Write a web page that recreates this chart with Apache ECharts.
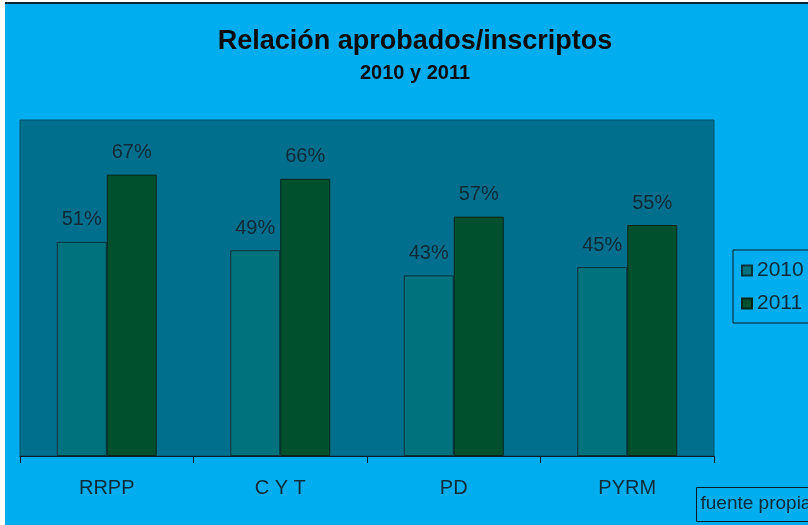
<!DOCTYPE html>
<html>
<head>
<meta charset="utf-8">
<script src="https://cdn.jsdelivr.net/npm/echarts@6/dist/echarts.min.js"></script>
<style>
html,body{margin:0;padding:0;background:#ffffff;}
#c{width:808px;height:525px;}
</style>
</head>
<body>
<div id="c"></div>
<script>
const categories = ['RRPP', 'C Y T', 'PD', 'PYRM'];
const seriesNames = ['2010', '2011'];
const values2010 = [0.51, 0.49, 0.43, 0.45];
const values2011 = [0.67, 0.66, 0.57, 0.55];
const titleText = 'Relación aprobados/inscriptos';
const subtitleText = '2010 y 2011';
const sourceText = 'fuente propia';

const chart = echarts.init(document.getElementById('c'), null, {renderer: 'canvas'});
const labelColor = '#0d2a36';
const pctFmt = p => Math.round(p.value * 100) + '%';

chart.setOption({
  backgroundColor: '#00AEEF',
  animation: false,
  title: {
    text: titleText,
    subtext: subtitleText,
    left: 410,
    textAlign: 'center',
    top: 23,
    itemGap: 8,
    textStyle: {fontFamily: 'Liberation Sans', fontWeight: 'bold', fontSize: 27, color: '#0a0a0a'},
    subtextStyle: {fontFamily: 'Liberation Sans', fontWeight: 'bold', fontSize: 20, color: '#0a0a0a'}
  },
  legend: {
    orient: 'vertical',
    left: 733,
    top: 250,
    data: seriesNames,
    icon: 'rect',
    itemWidth: 10,
    itemHeight: 10,
    itemGap: 12,
    padding: [10, 30, 9, 8],
    borderColor: '#0a1a20',
    borderWidth: 1,
    textStyle: {fontFamily: 'Liberation Sans', fontSize: 21, color: '#0d2a36'}
  },
  grid: {
    left: 20, right: 94, top: 120, bottom: 69,
    show: true,
    backgroundColor: '#006F8E',
    borderColor: '#00506A',
    borderWidth: 1
  },
  xAxis: {
    type: 'category',
    data: categories,
    axisLine: {lineStyle: {color: '#0a1a20', width: 1}},
    axisTick: {show: true, length: 7, lineStyle: {color: '#0a1a20'}},
    axisLabel: {fontFamily: 'Liberation Sans', fontSize: 20, color: '#0d2a36', margin: 22}
  },
  yAxis: {
    type: 'value',
    min: 0,
    max: 0.8,
    show: false,
    splitLine: {show: false}
  },
  series: [
    {
      name: seriesNames[0],
      type: 'bar',
      data: values2010,
      barWidth: 50,
      barGap: '0%',
      itemStyle: {color: '#00727E', borderColor: '#06323a', borderWidth: 1},
      label: {show: true, position: 'top', distance: 12, formatter: pctFmt,
        fontFamily: 'Liberation Sans', fontSize: 20, color: labelColor}
    },
    {
      name: seriesNames[1],
      type: 'bar',
      data: values2011,
      barWidth: 50,
      barGap: '0%',
      itemStyle: {color: '#00502E', borderColor: '#06261a', borderWidth: 1},
      label: {show: true, position: 'top', distance: 12, formatter: pctFmt,
        fontFamily: 'Liberation Sans', fontSize: 20, color: labelColor}
    }
  ],
  graphic: [
    {type: 'rect', left: 0, top: 0, shape: {width: 5, height: 525}, style: {fill: '#ffffff'}, silent: true},
    {type: 'rect', left: 0, top: 0, shape: {width: 808, height: 3}, style: {fill: '#ffffff'}, silent: true},
    {type: 'rect', left: 5, top: 2, shape: {width: 803, height: 2}, style: {fill: '#0a2530'}, silent: true},
    {
      type: 'group', left: 696, top: 487,
      children: [
        {type: 'rect', shape: {x: 0, y: 0, width: 130, height: 34}, style: {fill: 'transparent', stroke: '#0a1a20', lineWidth: 1}},
        {type: 'text', x: 4, y: 7, style: {text: sourceText, fontFamily: 'Liberation Sans', fontSize: 19, fill: '#0d2a36'}}
      ]
    }
  ]
});
</script>
</body>
</html>
